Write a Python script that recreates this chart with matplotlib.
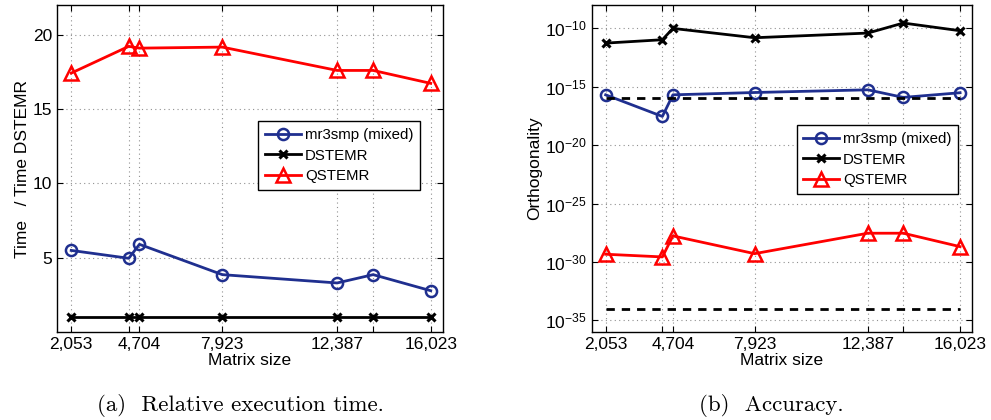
import matplotlib
matplotlib.use("Agg")
import matplotlib.pyplot as plt
import numpy as np

plt.rcParams['font.family'] = ['Liberation Sans', 'DejaVu Sans']
plt.rcParams['mathtext.default'] = 'regular'

# matrix sizes (tick labels only on some)
sizes = [2053, 4289, 4704, 7923, 12387, 13786, 16023]
size_labels = ['2,053', '', '4,704', '7,923', '12,387', '', '16,023']

# (a) relative execution time
time_mr3 = [5.49, 4.96, 5.90, 3.86, 3.30, 3.86, 2.78]
time_dstemr = [1, 1, 1, 1, 1, 1, 1]
time_qstemr = [17.42, 19.22, 19.10, 19.17, 17.60, 17.60, 16.73]

# (b) orthogonality, log10 values
orth_mr3 = [-15.69, -17.54, -15.69, -15.49, -15.26, -15.91, -15.51]
orth_dstemr = [-11.26, -10.97, -10.0, -10.8, -10.4, -9.54, -10.2]
orth_qstemr = [-29.34, -29.57, -27.77, -29.29, -27.54, -27.54, -28.69]
eps_levels = [1.1e-16, 9.6e-35]

labels = ['mr3smp (mixed)', 'DSTEMR', 'QSTEMR']
blue = '#1f2f8f'
red = '#ff0000'

fig = plt.figure(figsize=(9.91, 4.2), dpi=100)
ax1 = fig.add_axes([0.0575, 0.2095, 0.3895, 0.7785])
ax2 = fig.add_axes([0.597, 0.2095, 0.384, 0.7785])


def style(ax):
	ax.set_xlim(1500, 16500)
	ax.set_xticks(sizes)
	ax.set_xticklabels(size_labels)
	ax.tick_params(direction='in', top=True, right=True, length=4, labelsize=12.5, width=0.8)
	ax.grid(True, linestyle=(0, (1, 3)), color='#909090', linewidth=0.8)
	for s in ax.spines.values():
		s.set_linewidth(1.0)
	ax.set_xlabel('Matrix size', fontsize=12.5, labelpad=1)


def add_legend(ax, anchor):
	leg = ax.legend(loc='upper left', bbox_to_anchor=anchor, fontsize=10.8,
		fancybox=False, edgecolor='black', framealpha=1, handlelength=2.4,
		handletextpad=0.25, borderpad=0.45, labelspacing=0.45, borderaxespad=0)
	leg.get_frame().set_linewidth(1.0)


# panel (a)
ax1.plot(sizes, time_mr3, color=blue, lw=2, marker='o', ms=8, mfc='none', mew=1.8, label=labels[0])
ax1.plot(sizes, time_dstemr, color='black', lw=2, marker='x', ms=6, mew=2.2, label=labels[1])
ax1.plot(sizes, time_qstemr, color=red, lw=2, marker='^', ms=10, mfc='none', mew=1.8, label=labels[2])
ax1.set_ylim(0, 22)
ax1.set_yticks([5, 10, 15, 20])
style(ax1)
ax1.set_ylabel('Time   / Time DSTEMR', fontsize=12.5, labelpad=2)
add_legend(ax1, (0.5215, 0.645))

# panel (b)
ax2.set_yscale('log')
ax2.plot(sizes, 10.0 ** np.array(orth_mr3), color=blue, lw=2, marker='o', ms=8, mfc='none', mew=1.8, label=labels[0])
ax2.plot(sizes, 10.0 ** np.array(orth_dstemr), color='black', lw=2, marker='x', ms=6, mew=2.2, label=labels[1])
ax2.plot(sizes, 10.0 ** np.array(orth_qstemr), color=red, lw=2, marker='^', ms=10, mfc='none', mew=1.8, label=labels[2])
for e in eps_levels:
	ax2.plot([sizes[0], sizes[-1]], [e, e], color='black', lw=2, linestyle=(0, (3, 2.5)))
ax2.set_ylim(1e-36, 1e-8)
yt = [1e-35, 1e-30, 1e-25, 1e-20, 1e-15, 1e-10]
ax2.set_yticks(yt)
ax2.set_yticklabels(['$10^{%d}$' % int(round(np.log10(v))) for v in yt])
ax2.yaxis.set_minor_locator(matplotlib.ticker.NullLocator())
style(ax2)
ax2.set_ylabel('Orthogonality', fontsize=12.5, labelpad=2)
add_legend(ax2, (0.5386, 0.633))

fig.text(0.243, 0.035, '(a)  Relative execution time.', ha='center', va='center', fontsize=16.5, family='cmr10')
fig.text(0.778, 0.035, '(b)  Accuracy.', ha='center', va='center', fontsize=16.5, family='cmr10')

fig.savefig('out.png', dpi=100)
